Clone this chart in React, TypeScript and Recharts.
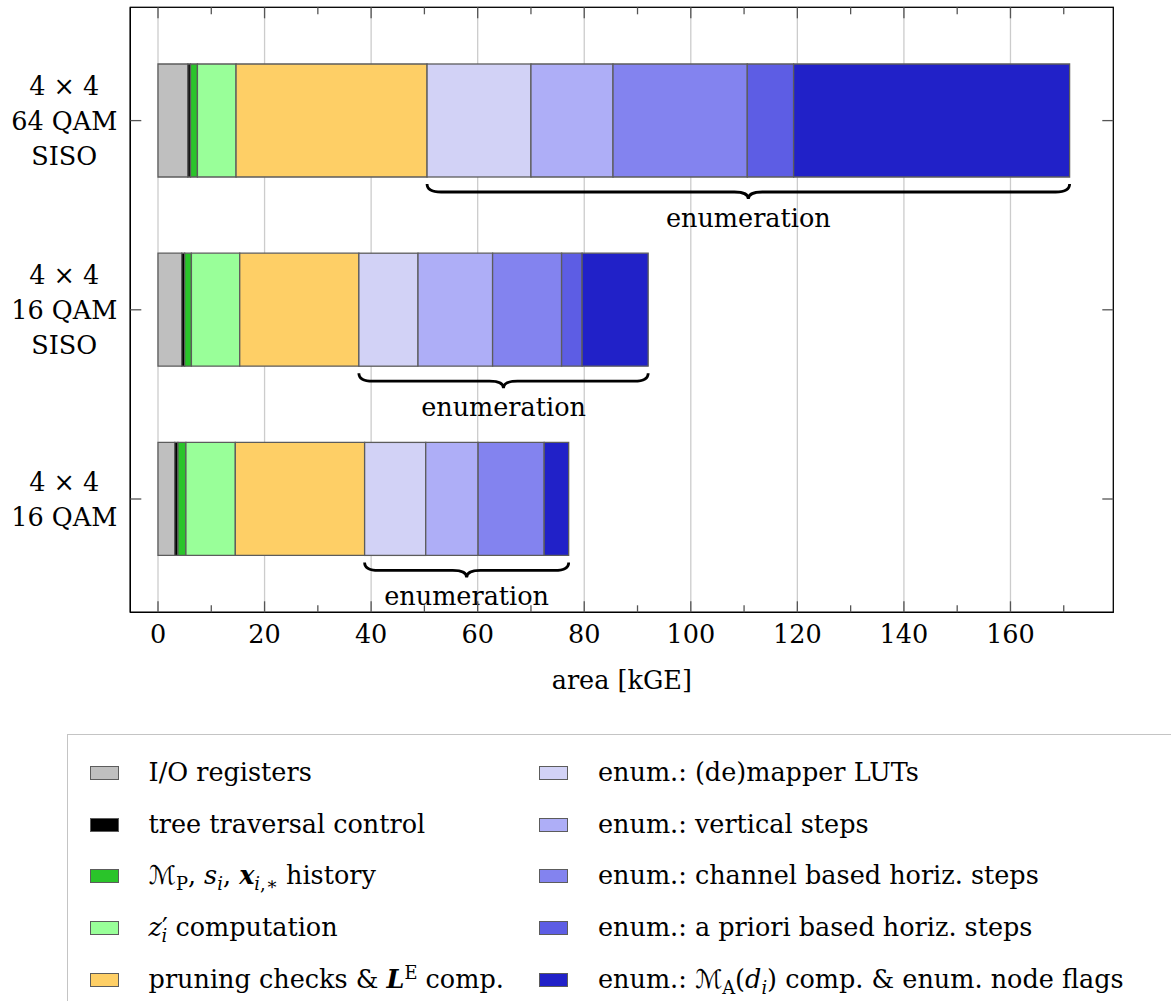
import React from "react";
import { BarChart, Bar, XAxis, YAxis, CartesianGrid } from "recharts";

const FONT = '"DejaVu Serif", "Liberation Serif", serif';
const FS = 25.5;

// categories, top to bottom
const categories = ["4 × 4 64 QAM SISO", "4 × 4 16 QAM SISO", "4 × 4 16 QAM"];
const categoryLines = [
  ["4 × 4", "64 QAM", "SISO"],
  ["4 × 4", "16 QAM", "SISO"],
  ["4 × 4", "16 QAM"],
];

// area per block in kGE
const ioRegisters = [5.6, 4.45, 3.14];
const treeControl = [0.5, 0.55, 0.6];
const history = [1.3, 1.27, 1.5];
const zComputation = [7.25, 9.07, 9.27];
const pruning = [35.85, 22.36, 24.27];
const mapperLuts = [19.5, 11.1, 11.47];
const verticalSteps = [15.4, 14.0, 9.83];
const channelSteps = [25.2, 12.95, 12.4];
const aprioriSteps = [8.7, 3.85, 0];
const nodeFlags = [51.8, 12.4, 4.6];

const xTicks = [0, 10, 20, 30, 40, 50, 60, 70, 80, 90, 100, 110, 120, 130, 140, 150, 160, 170];
const majorTicks = [0, 20, 40, 60, 80, 100, 120, 140, 160];
const X_DOMAIN: [number, number] = [-5.2, 179.3];

const PLOT_W = 983;
const PLOT_H = 605;

const series = [
  { key: "io", color: "#bfbfbf", values: ioRegisters },
  { key: "ctrl", color: "#000000", values: treeControl },
  { key: "hist", color: "#2ac42a", values: history },
  { key: "z", color: "#99ff99", values: zComputation },
  { key: "prune", color: "#fecf66", values: pruning },
  { key: "lut", color: "#d2d2f6", values: mapperLuts },
  { key: "vert", color: "#aeaef7", values: verticalSteps },
  { key: "chan", color: "#8383ef", values: channelSteps },
  { key: "apri", color: "#5d5de4", values: aprioriSteps },
  { key: "flags", color: "#2121c8", values: nodeFlags },
];

const enumKeys = ["lut", "vert", "chan", "apri", "flags"];

const data = categories.map((name, i) => {
  const row: any = { name };
  series.forEach((s) => (row[s.key] = s.values[i]));
  return row;
});

const sub = { fontSize: "0.7em", lineHeight: 0 } as const;
const script = { fontFamily: '"DejaVu Sans", serif', fontStyle: "italic" } as const;

const legendLabels: React.ReactNode[] = [
  <>I/O registers</>,
  <>tree traversal control</>,
  <>
    <span style={script}>ℳ</span>
    <sub style={sub}>P</sub>, <i>s</i>
    <sub style={sub}>
      <i>i</i>
    </sub>
    ,{" "}
    <b>
      <i>x</i>
    </b>
    <sub style={sub}>
      <i>i</i>,∗
    </sub>{" "}
    history
  </>,
  <>
    <i>z</i>′
    <sub style={{ ...sub, marginLeft: "-0.35em" }}>
      <i>i</i>
    </sub>{" "}
    computation
  </>,
  <>
    pruning checks &amp;{" "}
    <b>
      <i>L</i>
    </b>
    <sup style={sub}>E</sup> comp.
  </>,
  <>enum.: (de)mapper LUTs</>,
  <>enum.: vertical steps</>,
  <>enum.: channel based horiz. steps</>,
  <>enum.: a priori based horiz. steps</>,
  <>
    enum.: <span style={script}>ℳ</span>
    <sub style={sub}>A</sub>(<i>d</i>
    <sub style={sub}>
      <i>i</i>
    </sub>
    ) comp. &amp; enum. node flags
  </>,
];

const XTick = (props: any) => {
  const { x, y, payload } = props;
  const major = payload.value % 20 === 0;
  const len = major ? 11 : 7;
  return (
    <g>
      <line x1={x} x2={x} y1={y} y2={y - len} stroke="#555" strokeWidth={1.3} />
      <line x1={x} x2={x} y1={y - PLOT_H} y2={y - PLOT_H + len} stroke="#555" strokeWidth={1.3} />
      {major && (
        <text x={x} y={y + 31} textAnchor="middle" fontFamily={FONT} fontSize={FS} fill="#000">
          {payload.value}
        </text>
      )}
    </g>
  );
};

const YTick = (props: any) => {
  const { x, y, index } = props;
  const lines = categoryLines[index] || [];
  const start = y - ((lines.length - 1) * 35) / 2;
  return (
    <g>
      <line x1={x} x2={x + 11} y1={y} y2={y} stroke="#555" strokeWidth={1.3} />
      <line x1={x + PLOT_W - 11} x2={x + PLOT_W} y1={y} y2={y} stroke="#555" strokeWidth={1.3} />
      {lines.map((l, i) => (
        <text
          key={i}
          x={x - 66}
          y={start + i * 35 + 9}
          textAnchor="middle"
          fontFamily={FONT}
          fontSize={FS}
          fill="#000"
        >
          {l}
        </text>
      ))}
    </g>
  );
};

// LUT segment draws its rectangle plus the "enumeration" brace below the bar
const BraceShape = (props: any) => {
  const { x, y, width, height, fill, stroke, strokeWidth, payload } = props;
  const enumTotal = enumKeys.reduce((a, k) => a + payload[k], 0);
  const px = width / payload.lut;
  const x1 = x;
  const x2 = x + enumTotal * px;
  const xm = (x1 + x2) / 2;
  const yb = y + height;
  const y0 = yb + 7;
  const y1 = yb + 15;
  const y2 = yb + 22;
  const r = 14;
  const d = `M${x1},${y0} Q${x1},${y1} ${x1 + r},${y1} L${xm - r},${y1} Q${xm},${y1} ${xm},${y2} Q${xm},${y1} ${xm + r},${y1} L${x2 - r},${y1} Q${x2},${y1} ${x2},${y0}`;
  return (
    <g>
      <rect x={x} y={y} width={width} height={height} fill={fill} stroke={stroke} strokeWidth={strokeWidth} />
      <path d={d} fill="none" stroke="#000" strokeWidth={2.8} />
      <text x={xm} y={yb + 50} textAnchor="middle" fontFamily={FONT} fontSize={FS} fill="#000">
        enumeration
      </text>
    </g>
  );
};

// axis title, plus the plot frame (the axis viewBox spans the plot width)
const AxisLabel = (props: any) => {
  const { viewBox } = props;
  return (
    <g>
      <rect
        x={viewBox.x}
        y={viewBox.y - PLOT_H}
        width={viewBox.width}
        height={PLOT_H}
        fill="none"
        stroke="#000"
        strokeWidth={1.3}
      />
      <text
        x={viewBox.x + viewBox.width / 2}
        y={viewBox.y + 77}
        textAnchor="middle"
        fontFamily={FONT}
        fontSize={FS}
        fill="#000"
      >
        area [kGE]
      </text>
    </g>
  );
};

const LEGEND_ROWS = [773, 825, 876, 928, 980];

export default function App() {
  return (
    <div
      style={{
        position: "absolute",
        left: 0,
        top: 0,
        width: 1171,
        height: 1001,
        overflow: "hidden",
        background: "#fff",
      }}
    >
      <BarChart
        width={1171}
        height={700}
        data={data}
        layout="vertical"
        margin={{ top: 7.3, right: 57.7, bottom: 7.7, left: 10.3 }}
        barSize={113}
      >
        <CartesianGrid
          horizontal={false}
          verticalValues={majorTicks}
          stroke="#cccccc"
          strokeWidth={1.3}
        />
        <XAxis
          type="number"
          domain={X_DOMAIN}
          ticks={xTicks}
          interval={0}
          allowDataOverflow
          tickSize={0}
          tickMargin={0}
          height={80}
          axisLine={{ stroke: "#000", strokeWidth: 1.3 }}
          tick={<XTick />}
          label={<AxisLabel />}
        />
        <YAxis
          type="category"
          dataKey="name"
          width={120}
          interval={0}
          padding={{ top: 18.7, bottom: 18.7 }}
          tickSize={0}
          tickMargin={0}
          axisLine={{ stroke: "#000", strokeWidth: 1.3 }}
          tick={<YTick />}
        />
        {series.map((s) => (
          <Bar
            key={s.key}
            dataKey={s.key}
            stackId="a"
            fill={s.color}
            stroke="#5c5c5c"
            strokeWidth={1.3}
            isAnimationActive={false}
            shape={s.key === "lut" ? <BraceShape /> : undefined}
          />
        ))}
      </BarChart>

      <div
        style={{
          position: "absolute",
          left: 67,
          top: 734,
          width: 1200,
          height: 400,
          border: "1.5px solid #c4c4c4",
          boxSizing: "border-box",
        }}
      />
      {series.map((s, i) => {
        const col = i < 5 ? 0 : 1;
        const row = i % 5;
        const cy = LEGEND_ROWS[row];
        const swX = col === 0 ? 90 : 539;
        const txX = col === 0 ? 148.6 : 598;
        return (
          <React.Fragment key={s.key}>
            <div
              style={{
                position: "absolute",
                left: swX,
                top: cy - 7,
                width: 29,
                height: 14,
                background: s.color,
                border: "1.3px solid #5c5c5c",
                boxSizing: "border-box",
              }}
            />
            <div
              style={{
                position: "absolute",
                left: txX,
                top: cy - 17,
                fontFamily: FONT,
                fontSize: FS,
                lineHeight: "32px",
                whiteSpace: "nowrap",
                color: "#000",
              }}
            >
              {legendLabels[i]}
            </div>
          </React.Fragment>
        );
      })}
    </div>
  );
}
